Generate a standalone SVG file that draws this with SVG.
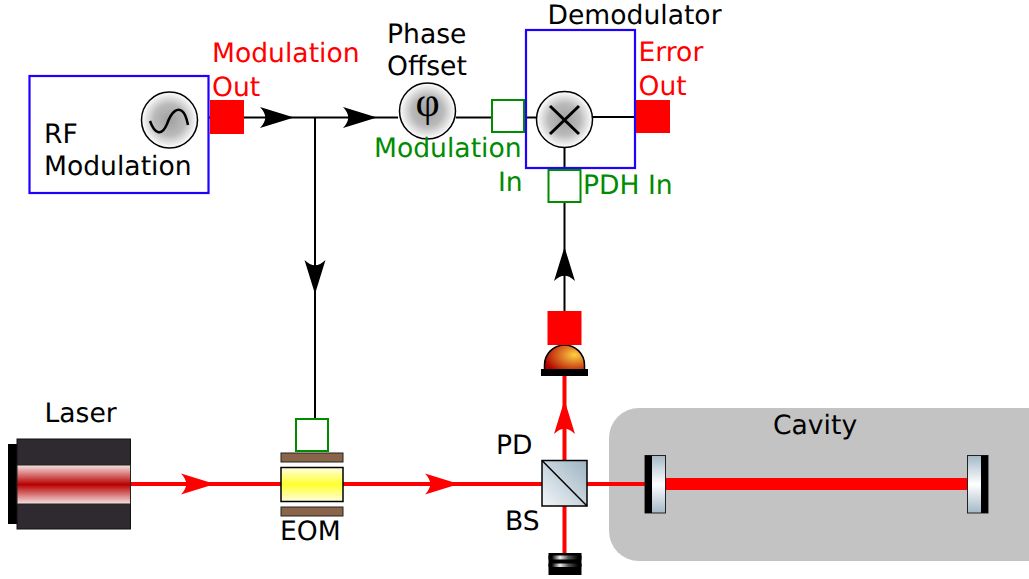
<svg xmlns="http://www.w3.org/2000/svg" width="1029" height="579" viewBox="0 0 1029 579">
<style>
text{font-family:"DejaVu Sans",sans-serif;font-size:26.6px;fill:#000;text-rendering:geometricPrecision}
.r{fill:#f00}.g{fill:#008c00}
.blue{fill:#fff;stroke:#2000ff;stroke-width:2.2}
.port{fill:#fff;stroke:#008c00;stroke-width:2}
.sq{fill:#f00}
.w{fill:none;stroke:#000;stroke-width:2}
.b{fill:none;stroke:#f00;stroke-width:4}
.dial{fill:url(#dial);stroke:#000;stroke-width:1.5}
</style>
<defs>
<radialGradient id="dial"><stop offset="0" stop-color="#a0a0a0"/><stop offset="0.55" stop-color="#bababa"/><stop offset="1" stop-color="#fff"/></radialGradient>
<linearGradient id="stripe" x1="0" y1="0" x2="0" y2="1"><stop offset="0" stop-color="#f6e4e4"/><stop offset="0.5" stop-color="#b80000"/><stop offset="1" stop-color="#f6e4e4"/></linearGradient>
<linearGradient id="yel" x1="0" y1="0" x2="0" y2="1"><stop offset="0" stop-color="#ffffe0"/><stop offset="0.5" stop-color="#ffff30"/><stop offset="1" stop-color="#ffffe0"/></linearGradient>
<linearGradient id="mir" x1="0" y1="0" x2="0" y2="1"><stop offset="0" stop-color="#a3b8c6"/><stop offset="0.5" stop-color="#fff"/><stop offset="1" stop-color="#a3b8c6"/></linearGradient>
<linearGradient id="cube" x1="0" y1="1" x2="1" y2="0"><stop offset="0" stop-color="#f2f5f8"/><stop offset="1" stop-color="#9db3c2"/></linearGradient>
<linearGradient id="dump" x1="0" y1="0" x2="1" y2="0"><stop offset="0.1" stop-color="#000"/><stop offset="0.35" stop-color="#eee"/><stop offset="0.6" stop-color="#555"/><stop offset="0.9" stop-color="#000"/></linearGradient>
<radialGradient id="pd" cx="0.75" cy="0.4" r="0.8"><stop offset="0" stop-color="#ffd040"/><stop offset="1" stop-color="#b00000"/></radialGradient>
<path id="ah" d="M0 0L-34 -10.500C-27 -3 -27 3 -34 10.500Z"/>
</defs>

<g id="cavity">
<rect x="609" y="408" width="450" height="153" rx="30" fill="#c3c3c3"/>
<text x="773" y="434">Cavity</text>
</g>

<g id="connectors">
<path class="w" d="M198 117.500H398M456 117.500H536M593 117H636M315 117.500V420M564.500 148V171M564.500 203V312"/>
<use href="#ah" x="294" y="117.500"/>
<use href="#ah" x="377" y="117.500"/>
<use href="#ah" transform="translate(315 294) rotate(90)"/>
<use href="#ah" transform="translate(564.500 247) rotate(-90)"/>
<path class="b" d="M130 484H542M587 484H645M564.500 376V460M564.500 506V553"/>
<path d="M665 484H967" fill="none" stroke="#f00" stroke-width="12"/>
<use href="#ah" x="215" y="484" fill="#f00"/>
<use href="#ah" x="459" y="484" fill="#f00"/>
<use href="#ah" transform="translate(564.500 400) rotate(-90)" fill="#f00"/>
</g>

<g id="rf-modulation">
<rect class="blue" x="29.500" y="76" width="179" height="117"/>
<circle class="dial" cx="169.500" cy="120" r="28"/>
<path d="M150 121C155 135 162 136 167 124C172 110 178 108 182 111C185 113 187 120 188 125" fill="none" stroke="#000" stroke-width="2.500"/>
<text x="44" y="143">RF</text>
<text x="44" y="175">Modulation</text>
</g>
<g id="modulation-out">
<rect class="sq" x="210" y="100" width="34" height="34"/>
<text class="r" x="212" y="62">Modulation</text>
<text class="r" x="212" y="96">Out</text>
</g>
<g id="phase-offset">
<circle class="dial" cx="427.500" cy="111" r="28"/>
<text x="427.500" y="116" text-anchor="middle" style="font-family:'Liberation Serif',serif;font-size:42px">φ</text>
<text x="387" y="43">Phase</text>
<text x="387" y="75">Offset</text>
</g>
<g id="modulation-in">
<rect class="port" x="492" y="100" width="32" height="32"/>
<text class="g" x="374" y="157">Modulation</text>
<text class="g" x="498" y="191">In</text>
</g>
<g id="demodulator">
<rect x="526" y="30" width="109" height="138" fill="none" stroke="#2000ff" stroke-width="2.200"/>
<circle class="dial" cx="564.500" cy="119.500" r="28"/>
<path d="M550 106L579 134M579 106L550 134" fill="none" stroke="#000" stroke-width="3"/>
<text x="547.500" y="24">Demodulator</text>
</g>
<g id="error-out">
<rect class="sq" x="636" y="100" width="34" height="33"/>
<text class="r" x="638.500" y="61">Error</text>
<text class="r" x="638.500" y="95">Out</text>
</g>
<g id="pdh-in">
<rect class="port" x="548.500" y="170" width="32" height="32"/>
<text class="g" x="583" y="194">PDH In</text>
</g>
<g id="photodetector">
<path d="M544.500 370V365A20 20 0 0 1 584.500 365V370Z" fill="url(#pd)" stroke="#000" stroke-width="1.500"/>
<rect class="sq" x="547.500" y="311" width="34" height="34"/>
<rect x="541" y="369" width="47" height="7" fill="#000"/>
<text x="496" y="454">PD</text>
</g>
<g id="laser">
<rect x="8" y="444" width="10" height="80" fill="#000"/>
<rect x="17" y="439" width="113.500" height="90" fill="#2e2a30" stroke="#111" stroke-width="1"/>
<rect x="17" y="465" width="113.500" height="39" fill="url(#stripe)" stroke="#222" stroke-width="1"/>
<text x="44.500" y="422">Laser</text>
</g>
<g id="eom">
<rect class="port" x="296" y="419" width="32" height="32"/>
<rect x="281" y="453" width="62" height="9" fill="#8a6549" stroke="#222" stroke-width="1"/>
<rect x="281" y="467.500" width="62" height="34" fill="url(#yel)" stroke="#000" stroke-width="1.500"/>
<rect x="281" y="507" width="62" height="9" fill="#8a6549" stroke="#222" stroke-width="1"/>
<text x="280" y="540">EOM</text>
</g>
<g id="beam-splitter">
<rect x="542" y="460.500" width="45" height="45.500" fill="url(#cube)" stroke="#000" stroke-width="1.500"/>
<path d="M542 460.500L587 506" stroke="#000" stroke-width="1.500"/>
<text x="505" y="530">BS</text>
</g>
<g id="beam-dump">
<rect x="548.500" y="553" width="33" height="22" fill="#000"/>
<rect x="548.500" y="555.500" width="33" height="4" fill="url(#dump)"/>
<rect x="548.500" y="563.500" width="33" height="3.500" fill="url(#dump)"/>
</g>
<g id="mirror-left">
<rect x="645" y="455.500" width="20.500" height="57.500" fill="url(#mir)" stroke="#222" stroke-width="1"/>
<rect x="645" y="455.500" width="7" height="57.500" fill="#000"/>
</g>
<g id="mirror-right">
<rect x="967.500" y="455.500" width="20.500" height="57.500" fill="url(#mir)" stroke="#222" stroke-width="1"/>
<rect x="981" y="455.500" width="7" height="57.500" fill="#000"/>
</g>
</svg>
